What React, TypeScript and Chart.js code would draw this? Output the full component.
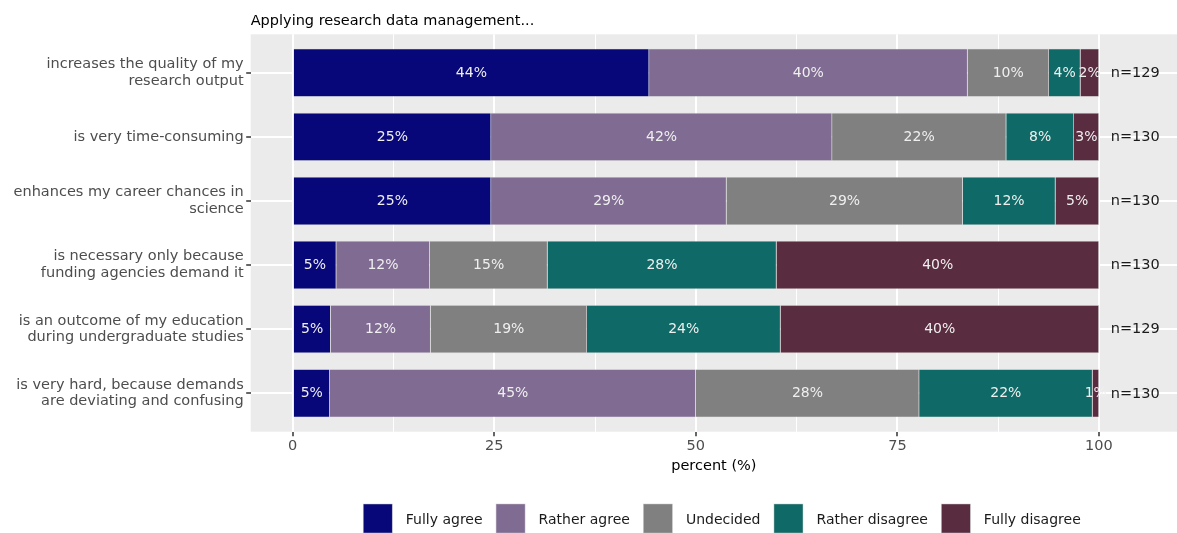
import React, { useEffect, useRef } from 'react';
import { Chart, registerables } from 'chart.js';

Chart.register(...registerables);

const categories: string[][] = [
  ['increases the quality of my', 'research output'],
  ['is very time-consuming'],
  ['enhances my career chances in', 'science'],
  ['is necessary only because', 'funding agencies demand it'],
  ['is an outcome of my education', 'during undergraduate studies'],
  ['is very hard, because demands', 'are deviating and confusing'],
];

const legendLabels = ['Fully agree', 'Rather agree', 'Undecided', 'Rather disagree', 'Fully disagree'];

const fullyAgree = [44.2, 24.6, 24.6, 5.4, 4.7, 4.6];
const ratherAgree = [39.5, 42.3, 29.2, 11.6, 12.4, 45.4];
const undecided = [10.1, 21.6, 29.3, 14.6, 19.4, 27.7];
const ratherDisagree = [3.9, 8.4, 11.5, 28.4, 24.0, 21.5];
const fullyDisagree = [2.3, 3.1, 5.4, 40.0, 39.5, 0.8];

const respondents = [129, 130, 130, 130, 129, 130];

const xMajorTicks = [0, 25, 50, 75, 100];
const xMinorTicks = [12.5, 37.5, 62.5, 87.5];

const seriesColors = ['#07077A', '#806B92', '#808080', '#0F6966', '#5A2C40'];

const titleText = 'Applying research data management...';
const xTitleText = 'percent (%)';

const FONT = '"DejaVu Sans", Verdana, sans-serif';

const chartPlugin = {
  id: 'ggplotLook',
  beforeDraw(chart: any) {
    const { ctx, chartArea: a } = chart;
    ctx.save();
    ctx.fillStyle = '#EBEBEB';
    ctx.fillRect(a.left, a.top, a.right - a.left, a.bottom - a.top);
    ctx.restore();
  },
  afterDatasetsDraw(chart: any) {
    const { ctx } = chart;
    ctx.save();
    ctx.font = `14px ${FONT}`;
    ctx.textAlign = 'center';
    ctx.textBaseline = 'middle';
    ctx.fillStyle = '#EFEFEF';
    chart.data.datasets.forEach((ds: any, di: number) => {
      const meta = chart.getDatasetMeta(di);
      meta.data.forEach((bar: any, i: number) => {
        const v = ds.data[i].x;
        const cx = (bar.x + bar.base) / 2;
        ctx.fillText(Math.round(v) + '%', cx, bar.y + 0.5);
      });
    });
    const xs = chart.scales.x;
    const ys = chart.scales.y;
    ctx.fillStyle = '#1A1A1A';
    ctx.font = `14.5px ${FONT}`;
    respondents.forEach((n, i) => {
      ctx.fillText('n=' + n, xs.getPixelForValue(104.5), ys.getPixelForValue(i) + 0.5);
    });
    ctx.restore();
  },
  afterDraw(chart: any) {
    const { ctx, chartArea: a } = chart;
    ctx.save();
    // title
    ctx.fillStyle = '#000000';
    ctx.font = `14.5px ${FONT}`;
    ctx.textAlign = 'left';
    ctx.textBaseline = 'alphabetic';
    ctx.fillText(titleText, a.left, 25);
    // x axis title
    ctx.textAlign = 'center';
    ctx.textBaseline = 'middle';
    ctx.fillText(xTitleText, (a.left + a.right) / 2, 466);
    // legend
    ctx.font = `14px ${FONT}`;
    const box = 29;
    const gap = 13.5;
    const widths = legendLabels.map((t) => ctx.measureText(t).width);
    const total = widths.reduce((s, w) => s + box + gap + w, 0) + gap * (legendLabels.length - 1);
    let x = 722 - total / 2;
    const top = 504;
    legendLabels.forEach((t, i) => {
      ctx.fillStyle = seriesColors[i];
      ctx.fillRect(x, top, box, box);
      ctx.strokeStyle = 'rgba(200,200,200,0.8)';
      ctx.lineWidth = 0.6;
      ctx.strokeRect(x, top, box, box);
      ctx.fillStyle = '#1A1A1A';
      ctx.textAlign = 'left';
      ctx.fillText(t, x + box + gap, top + 16);
      x += box + gap + widths[i] + gap;
    });
    ctx.restore();
  },
};

export default function App() {
  const canvasRef = useRef<HTMLCanvasElement | null>(null);

  useEffect(() => {
    document.body.style.margin = '0';
    const canvas = canvasRef.current;
    if (!canvas) return;
    const seriesValues = [fullyAgree, ratherAgree, undecided, ratherDisagree, fullyDisagree];
    const chart = new Chart(canvas, {
      type: 'bar',
      data: {
        datasets: seriesValues.map((vals, si) => ({
          label: legendLabels[si],
          data: vals.map((v, i) => ({ x: v, y: i })),
          backgroundColor: seriesColors[si],
          borderColor: 'rgba(200,200,200,0.7)',
          borderWidth: 0.6,
          barPercentage: 0.75,
          categoryPercentage: 1,
        })),
      },
      options: {
        indexAxis: 'y',
        animation: false,
        responsive: true,
        maintainAspectRatio: false,
        events: [],
        layout: { padding: { top: 34.3, left: 0, right: 0, bottom: 0 } },
        plugins: {
          legend: { display: false },
          tooltip: { enabled: false },
          title: { display: false },
        },
        scales: {
          x: {
            type: 'linear',
            min: -5.21,
            max: 109.68,
            stacked: true,
            offset: false,
            afterBuildTicks: (s: any) => {
              s.ticks = [...xMajorTicks, ...xMinorTicks].sort((a, b) => a - b).map((v) => ({ value: v }));
            },
            afterFit: (s: any) => {
              s.height = 533 - 431.7;
            },
            ticks: {
              autoSkip: false,
              maxRotation: 0,
              padding: 1,
              color: '#4D4D4D',
              font: { family: FONT, size: 14.5 },
              callback: (v: any) => (xMajorTicks.includes(v) ? String(v) : ''),
            },
            grid: {
              offset: false,
              color: '#FFFFFF',
              lineWidth: (c: any) => (c.tick && xMajorTicks.includes(c.tick.value) ? 2 : 1),
              drawTicks: true,
              tickLength: 4.5,
              tickWidth: 1.5,
              tickColor: (c: any) => (c.tick && xMajorTicks.includes(c.tick.value) ? '#333333' : 'rgba(0,0,0,0)'),
            },
            border: { display: false },
          },
          y: {
            type: 'linear',
            min: -0.6,
            max: 5.6,
            reverse: true,
            stacked: true,
            offset: false,
            afterBuildTicks: (s: any) => {
              s.ticks = categories.map((_, i) => ({ value: i }));
            },
            afterFit: (s: any) => {
              s.width = 250.7;
            },
            ticks: {
              autoSkip: false,
              padding: 2.5,
              color: '#4D4D4D',
              font: { family: FONT, size: 14.5, lineHeight: 1.15 },
              callback: (v: any) => categories[v],
            },
            grid: {
              offset: false,
              color: '#FFFFFF',
              lineWidth: 2,
              drawTicks: true,
              tickLength: 4.5,
              tickWidth: 1.5,
              tickColor: '#333333',
            },
            border: { display: false },
          },
        },
      },
      plugins: [chartPlugin],
    } as any);
    return () => {
      chart.destroy();
    };
  }, []);

  return (
    <div style={{ position: 'relative', width: '1177px', height: '533px' }}>
      <canvas ref={canvasRef} />
    </div>
  );
}
